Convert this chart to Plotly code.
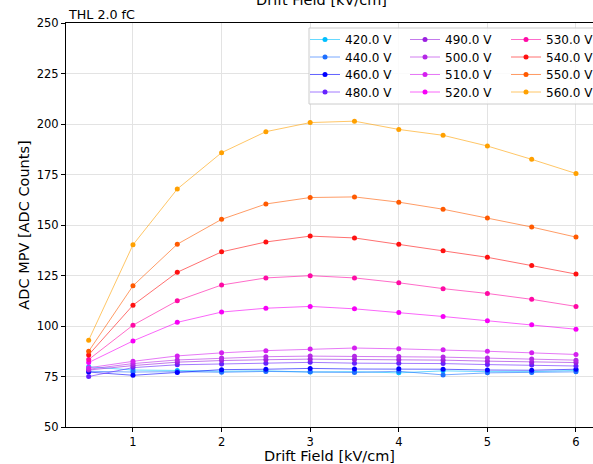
import plotly.graph_objects as go

# Drift field scan points [kV/cm]
drift_field = [0.5, 1.0, 1.5, 2.0, 2.5, 3.0, 3.5, 4.0, 4.5, 5.0, 5.5, 6.0]

# Voltage labels of each scan
voltages = ["420.0 V", "440.0 V", "460.0 V", "480.0 V", "490.0 V", "500.0 V",
            "510.0 V", "520.0 V", "530.0 V", "540.0 V", "550.0 V", "560.0 V"]

# ADC MPV per voltage
mpv_420 = [79.8, 78.2, 78.0, 77.6, 77.8, 77.2, 77.4, 76.8, 77.8, 77.4, 77.4, 78.0]
mpv_440 = [77.6, 77.2, 77.4, 77.1, 77.5, 77.4, 77.0, 77.6, 75.8, 76.8, 77.0, 77.3]
mpv_460 = [77.2, 75.6, 77.0, 78.4, 78.6, 79.0, 78.7, 78.8, 78.6, 78.2, 78.1, 78.6]
mpv_480 = [75.0, 79.4, 80.8, 81.2, 81.6, 82.0, 81.6, 81.6, 81.4, 80.9, 80.7, 80.2]
mpv_490 = [78.2, 80.4, 82.1, 82.9, 83.3, 83.6, 83.4, 83.3, 83.1, 82.6, 82.1, 81.9]
mpv_500 = [78.6, 81.4, 83.2, 84.1, 84.8, 85.1, 85.0, 84.9, 84.6, 84.1, 83.7, 83.1]
mpv_510 = [79.3, 82.5, 85.2, 86.7, 87.8, 88.6, 89.1, 88.7, 88.2, 87.5, 86.7, 85.9]
mpv_520 = [81.9, 92.6, 101.8, 106.9, 108.8, 109.7, 108.5, 106.7, 104.7, 102.6, 100.6, 98.4]
mpv_530 = [83.4, 100.4, 112.5, 120.3, 123.8, 124.9, 123.8, 121.4, 118.5, 116.1, 113.2, 109.7]
mpv_540 = [85.7, 110.3, 126.6, 136.7, 141.6, 144.5, 143.6, 140.5, 137.2, 134.0, 129.9, 125.7]
mpv_550 = [87.5, 119.9, 140.5, 152.8, 160.4, 163.6, 163.9, 161.3, 157.8, 153.5, 149.0, 144.0]
mpv_560 = [93.0, 140.2, 167.8, 185.8, 196.2, 200.7, 201.4, 197.3, 194.4, 189.1, 182.5, 175.5]

series = [mpv_420, mpv_440, mpv_460, mpv_480, mpv_490, mpv_500,
          mpv_510, mpv_520, mpv_530, mpv_540, mpv_550, mpv_560]

colors = [(0, 191, 255), (30, 111, 255), (0, 0, 255), (102, 34, 255),
          (155, 31, 224), (180, 40, 230), (213, 31, 240), (247, 0, 247),
          (255, 10, 165), (255, 17, 17), (255, 90, 0), (255, 160, 0)]

FONT = "DejaVu Sans"
W, H = 593, 464
ML, MR, MT, MB = 66, 0, 23, 37
PW, PH = W - ML - MR, H - MT - MB


def px_to_paper_x(px):
    return (px - ML) / PW


def px_to_paper_y(py):
    return 1 - (py - MT) / PH


# legend grid: 3 columns x 4 rows, filled column by column
n_rows = 4
col_left_px = [305, 405, 506]
row_center_px = [39.5, 57, 74.5, 92]

fig = go.Figure()
legends = {}
for i, (label, vals, c) in enumerate(zip(voltages, series, colors)):
    col, row = divmod(i, n_rows)
    key = "legend" if i == 0 else f"legend{i + 1}"
    fig.add_trace(go.Scatter(
        x=drift_field, y=vals, name=label, mode="lines+markers",
        line=dict(color=f"rgba({c[0]},{c[1]},{c[2]},0.6)", width=1),
        marker=dict(color=f"rgb({c[0]},{c[1]},{c[2]})", size=5),
        legend=key,
    ))
    legends[key] = dict(
        x=px_to_paper_x(col_left_px[col]), y=px_to_paper_y(row_center_px[row]),
        xanchor="left", yanchor="middle",
        bgcolor="rgba(0,0,0,0)", borderwidth=0,
        font=dict(family=FONT, size=12, color="black"),
        itemwidth=30,
    )

axis_common = dict(
    showgrid=True, gridcolor="#e3e3e3", gridwidth=1,
    showline=True, linecolor="black", linewidth=1,
    ticks="outside", ticklen=4, tickcolor="black", tickwidth=1,
    tickfont=dict(family=FONT, size=11.5, color="black"),
    zeroline=False,
)

fig.update_layout(
    width=W, height=H,
    margin=dict(l=ML, r=MR, t=MT, b=MB, autoexpand=False),
    paper_bgcolor="white", plot_bgcolor="white",
    font=dict(family=FONT, color="black"),
    xaxis=dict(range=[0.244, 6.192], tickvals=[1, 2, 3, 4, 5, 6], mirror=True,
               title=dict(text="Drift Field [kV/cm]", font=dict(family=FONT, size=14.5), standoff=6),
               **axis_common),
    yaxis=dict(range=[50, 250], tickvals=[50, 75, 100, 125, 150, 175, 200, 225, 250],
               title=dict(text="ADC MPV [ADC Counts]", font=dict(family=FONT, size=14.5), standoff=3),
               **axis_common),
    showlegend=True,
    **legends,
)

# legend frame
fig.add_shape(type="rect", xref="paper", yref="paper", layer="above",
              x0=px_to_paper_x(309), x1=px_to_paper_x(600),
              y0=px_to_paper_y(104), y1=px_to_paper_y(28),
              line=dict(color="#cccccc", width=1), fillcolor="rgba(255,255,255,0.85)")

fig.add_annotation(text="THL 2.0 fC", xref="paper", yref="paper", x=0, y=1.022,
                   xanchor="left", yanchor="middle", showarrow=False,
                   font=dict(family=FONT, size=12.7))
fig.add_annotation(text="Drift Field [kV/cm]", xref="paper", yref="paper", x=0.484, y=1.058,
                   xanchor="center", yanchor="middle", showarrow=False,
                   font=dict(family=FONT, size=14.5))

fig.write_html("out.html")
